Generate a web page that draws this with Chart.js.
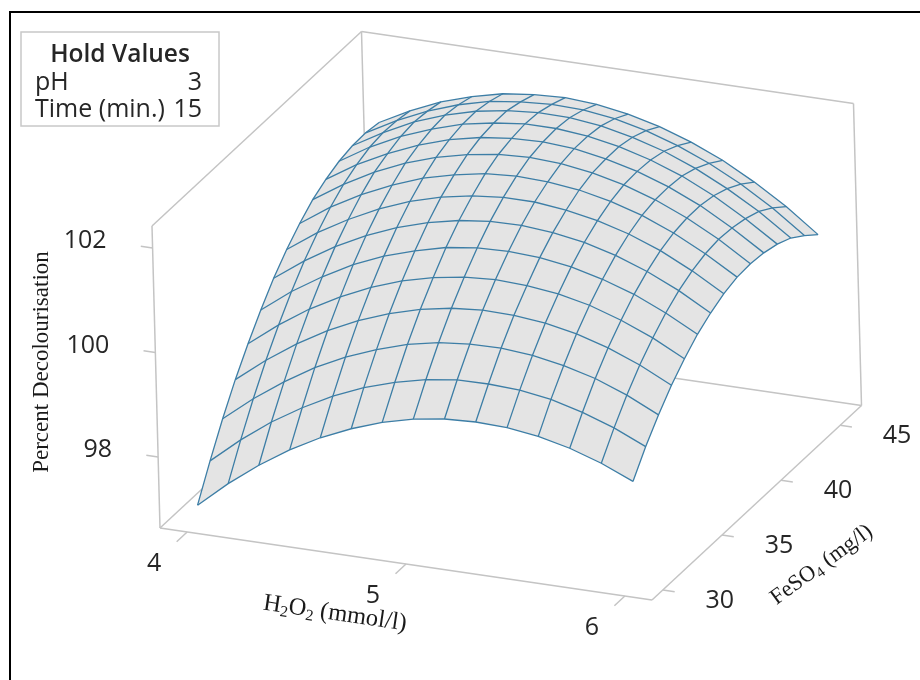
<!DOCTYPE html>
<html>
<head>
<meta charset="utf-8">
<title>Percent Decolourisation surface</title>
<script src="https://cdn.jsdelivr.net/npm/chart.js@4"></script>
<style>
html, body { margin: 0; padding: 0; background: #fff; }
canvas { display: block; }
</style>
</head>
<body>
<canvas id="myChart" width="920" height="680"></canvas>
<script>
// axis ticks
const h2o2Ticks = [4, 5, 6];
const feso4Ticks = [30, 35, 40, 45];
const decolTicks = [98, 100, 102];

// mesh lines of the surface
const h2o2Levels = [4, 4.143, 4.286, 4.429, 4.571, 4.714, 4.857, 5, 5.143, 5.286, 5.429, 5.571, 5.714, 5.857, 6];
const feso4Levels = [30, 31.13, 32.26, 33.39, 34.52, 35.65, 36.78, 37.92, 39.05, 40.18, 41.31, 42.44, 43.57, 44.7, 45.83];

const row1 = [96.96, 97.46, 97.90, 98.28, 98.60, 98.86, 99.07, 99.22, 99.31, 99.34, 99.32, 99.24, 99.10, 98.90, 98.64];
const row2 = [97.57, 98.06, 98.49, 98.85, 99.16, 99.41, 99.60, 99.74, 99.82, 99.83, 99.80, 99.71, 99.55, 99.34, 99.07];
const row3 = [98.14, 98.61, 99.02, 99.38, 99.67, 99.90, 100.09, 100.21, 100.27, 100.28, 100.23, 100.12, 99.96, 99.73, 99.44];
const row4 = [98.65, 99.11, 99.51, 99.85, 100.13, 100.35, 100.52, 100.63, 100.68, 100.67, 100.61, 100.49, 100.31, 100.07, 99.77];
const row5 = [99.10, 99.55, 99.94, 100.26, 100.53, 100.74, 100.89, 100.99, 101.03, 101.00, 100.93, 100.80, 100.60, 100.35, 100.04];
const row6 = [99.51, 99.95, 100.32, 100.64, 100.89, 101.08, 101.23, 101.31, 101.33, 101.30, 101.21, 101.06, 100.86, 100.59, 100.27];
const row7 = [99.88, 100.30, 100.66, 100.96, 101.20, 101.38, 101.51, 101.58, 101.59, 101.54, 101.44, 101.28, 101.06, 100.78, 100.44];
const row8 = [100.19, 100.60, 100.94, 101.23, 101.46, 101.63, 101.74, 101.80, 101.80, 101.73, 101.62, 101.45, 101.22, 100.92, 100.57];
const row9 = [100.45, 100.85, 101.18, 101.45, 101.67, 101.82, 101.93, 101.97, 101.95, 101.88, 101.75, 101.57, 101.32, 101.01, 100.65];
const row10 = [100.67, 101.05, 101.37, 101.63, 101.83, 101.97, 102.06, 102.09, 102.06, 101.97, 101.83, 101.63, 101.37, 101.05, 100.67];
const row11 = [100.82, 101.19, 101.49, 101.74, 101.93, 102.06, 102.13, 102.15, 102.11, 102.00, 101.85, 101.64, 101.37, 101.03, 100.64];
const row12 = [100.93, 101.29, 101.58, 101.81, 101.99, 102.10, 102.17, 102.17, 102.11, 102.00, 101.83, 101.61, 101.32, 100.97, 100.57];
const row13 = [100.99, 101.33, 101.62, 101.84, 102.00, 102.10, 102.15, 102.14, 102.07, 101.94, 101.76, 101.52, 101.22, 100.87, 100.45];
const row14 = [101.00, 101.32, 101.59, 101.80, 101.95, 102.03, 102.07, 102.05, 101.97, 101.83, 101.63, 101.38, 101.07, 100.70, 100.26];
const row15 = [100.96, 101.27, 101.53, 101.72, 101.86, 101.93, 101.96, 101.92, 101.82, 101.67, 101.46, 101.20, 100.87, 100.49, 100.04];
const decolRows = [row1, row2, row3, row4, row5, row6, row7, row8, row9, row10, row11, row12, row13, row14, row15];

// hold values box
const holdLabels = ['pH', 'Time (min.)'];
const holdValues = ['3', '15'];

// box limits in data units
const h2o2Min = 3.876, h2o2Max = 6.124;
const feMin = 29.08, feMax = 46.81;
const decolMin = 96.64, decolMax = 102.42;

// oblique view of the box, pixels per full axis
const origin = [160, 528];
const uDir = [492, 72];
const vDir = [209.5, -194.5];
const wDir = [-8, -302];

function project(h2o2, fe, decol) {
    const u = (h2o2 - h2o2Min) / (h2o2Max - h2o2Min);
    const v = (fe - feMin) / (feMax - feMin);
    const w = (decol - decolMin) / (decolMax - decolMin);
    return {
        x: origin[0] + u * uDir[0] + v * vDir[0] + w * wDir[0],
        y: origin[1] + u * uDir[1] + v * vDir[1] + w * wDir[1]
    };
}

const boxColor = '#c4c4c4';
const meshColor = '#3d7ea6';
const fillColor = '#e4e4e4';

function lineSet(points, color, width) {
    return {
        data: points,
        showLine: true,
        borderColor: color,
        borderWidth: width,
        pointRadius: 0,
        fill: false
    };
}

function boxEdge(a, b) {
    return lineSet([project(a[0], a[1], a[2]), project(b[0], b[1], b[2])], boxColor, 1.5);
}

const datasets = [];

// walls and floor
const frontLeft = [h2o2Min, feMin, decolMin];
const frontRight = [h2o2Max, feMin, decolMin];
const backRight = [h2o2Max, feMax, decolMin];
const backLeft = [h2o2Min, feMax, decolMin];
const topFront = [h2o2Min, feMin, decolMax];
const topBackLeft = [h2o2Min, feMax, decolMax];
const topBackRight = [h2o2Max, feMax, decolMax];
[
    [frontLeft, frontRight], [frontRight, backRight], [backRight, backLeft], [backLeft, frontLeft],
    [frontLeft, topFront], [topFront, topBackLeft], [topBackLeft, topBackRight],
    [topBackRight, backRight], [backLeft, topBackLeft]
].forEach(edge => datasets.push(boxEdge(edge[0], edge[1])));

// tick marks
const h2o2Span = h2o2Max - h2o2Min;
const feSpan = feMax - feMin;
h2o2Ticks.forEach(t => datasets.push(boxEdge([t, feMin, decolMin], [t, feMin - 0.05 * feSpan, decolMin])));
feso4Ticks.forEach(t => datasets.push(boxEdge([h2o2Max, t, decolMin], [h2o2Max + 0.024 * h2o2Span, t, decolMin])));
decolTicks.forEach(t => datasets.push(boxEdge([h2o2Min, feMin, t], [h2o2Min - 0.024 * h2o2Span, feMin, t])));

// surface fill, walking round the outer edge of the mesh
const outline = [];
h2o2Levels.forEach((h, i) => outline.push(project(h, feso4Levels[0], decolRows[0][i])));
feso4Levels.forEach((f, j) => outline.push(project(h2o2Levels[14], f, decolRows[j][14])));
for (let i = 14; i >= 0; i--) outline.push(project(h2o2Levels[i], feso4Levels[14], decolRows[14][i]));
for (let j = 14; j >= 0; j--) outline.push(project(h2o2Levels[0], feso4Levels[j], decolRows[j][0]));
datasets.push({
    data: outline,
    showLine: true,
    borderColor: fillColor,
    borderWidth: 0,
    backgroundColor: fillColor,
    pointRadius: 0,
    fill: 'shape'
});

// mesh lines both ways
feso4Levels.forEach((f, j) => {
    datasets.push(lineSet(h2o2Levels.map((h, i) => project(h, f, decolRows[j][i])), meshColor, 1.3));
});
h2o2Levels.forEach((h, i) => {
    datasets.push(lineSet(feso4Levels.map((f, j) => project(h, f, decolRows[j][i])), meshColor, 1.3));
});

// chart.js paints the first dataset last
datasets.reverse();

const sansFont = '"Open Sans", sans-serif';
const serifFont = '"Liberation Serif", serif';
const textColor = '#262626';

// text runs so the subscripts can sit lower
function drawRuns(ctx, runs, cx, cy, angle, size) {
    const subSize = Math.round(size * 0.65);
    ctx.save();
    ctx.translate(cx, cy);
    ctx.rotate(angle);
    ctx.textAlign = 'left';
    ctx.textBaseline = 'alphabetic';
    let total = 0;
    runs.forEach(r => {
        ctx.font = `${r.sub ? subSize : size}px ${serifFont}`;
        total += ctx.measureText(r.text).width;
    });
    let x = -total / 2;
    runs.forEach(r => {
        ctx.font = `${r.sub ? subSize : size}px ${serifFont}`;
        ctx.fillText(r.text, x, r.sub ? 11 : 7);
        x += ctx.measureText(r.text).width;
    });
    ctx.restore();
}

const labelPlugin = {
    id: 'labels',
    afterDraw(chart) {
        const ctx = chart.ctx;
        const sx = chart.scales.x;
        const sy = chart.scales.y;
        const at = (h, f, d) => {
            const p = project(h, f, d);
            return [sx.getPixelForValue(p.x), sy.getPixelForValue(p.y)];
        };
        ctx.save();

        // outer frame, only top and left are in the picture
        ctx.strokeStyle = '#000';
        ctx.lineWidth = 2;
        ctx.beginPath();
        ctx.moveTo(10, 680);
        ctx.lineTo(10, 12);
        ctx.lineTo(920, 12);
        ctx.stroke();

        // hold values
        ctx.strokeStyle = '#c8c8c8';
        ctx.lineWidth = 1.5;
        ctx.strokeRect(21, 32, 198, 94);
        ctx.fillStyle = textColor;
        ctx.textBaseline = 'alphabetic';
        ctx.font = `600 24.5px ${sansFont}`;
        ctx.textAlign = 'center';
        ctx.fillText('Hold Values', 120, 62);
        ctx.font = `500 25px ${sansFont}`;
        holdLabels.forEach((label, i) => {
            ctx.textAlign = 'left';
            ctx.fillText(label, 35, 90 + i * 27);
            ctx.textAlign = 'right';
            ctx.fillText(holdValues[i], 202, 90 + i * 27);
        });

        // tick labels
        ctx.font = `25px ${sansFont}`;
        ctx.textBaseline = 'middle';
        ctx.textAlign = 'center';
        h2o2Ticks.forEach(t => {
            const p = at(t, feMin, decolMin);
            ctx.fillText(String(t), p[0] - 33, p[1] + 32);
        });
        feso4Ticks.forEach(t => {
            const p = at(h2o2Max, t, decolMin);
            ctx.fillText(String(t), p[0] + 57, p[1] + 11);
        });
        ctx.textAlign = 'right';
        decolTicks.forEach(t => {
            const p = at(h2o2Min, feMin, t);
            ctx.fillText(String(t), p[0] - 46, p[1] - 7);
        });

        // axis titles
        ctx.fillStyle = '#1a1a1a';
        drawRuns(ctx, [{ text: 'Percent Decolourisation' }], 41, 362, -Math.PI / 2, 23);
        drawRuns(ctx, [
            { text: 'H' }, { text: '2', sub: true }, { text: 'O' }, { text: '2', sub: true }, { text: ' (mmol/l)' }
        ], 335, 613, 0.146, 24.5);
        drawRuns(ctx, [
            { text: 'FeSO' }, { text: '4', sub: true }, { text: ' (mg/l)' }
        ], 821, 564, -0.63, 22.5);
        ctx.restore();
    }
};

new Chart(document.getElementById('myChart').getContext('2d'), {
    type: 'scatter',
    data: { datasets: datasets },
    plugins: [labelPlugin],
    options: {
        responsive: false,
        animation: false,
        layout: { padding: 0 },
        plugins: { legend: { display: false }, tooltip: { enabled: false } },
        scales: {
            x: { type: 'linear', display: false, min: 0, max: 920 },
            y: { type: 'linear', display: false, min: 0, max: 680, reverse: true }
        }
    }
});
</script>
</body>
</html>
